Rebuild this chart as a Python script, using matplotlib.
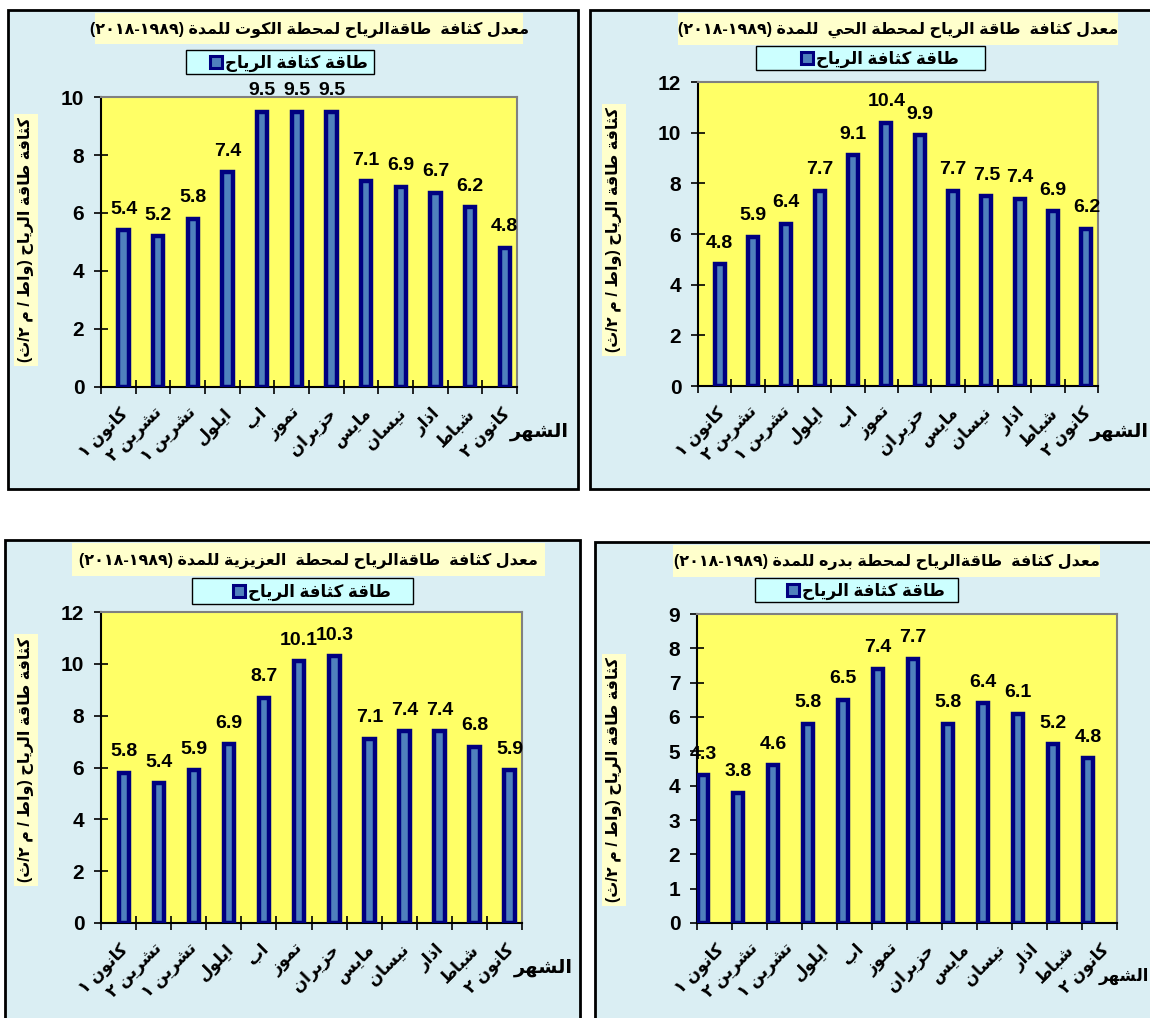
import matplotlib
matplotlib.use('Agg')
import matplotlib.pyplot as plt
from matplotlib.patches import Rectangle
import numpy as np

# ---------------- data ----------------
months = ['كانون ١', 'تشرين ٢', 'تشرين ١', 'ايلول', 'اب', 'تموز', 'حزيران',
          'مايس', 'نيسان', 'اذار', 'شباط', 'كانون ٢']
kut = [5.4, 5.2, 5.8, 7.4, 9.5, 9.5, 9.5, 7.1, 6.9, 6.7, 6.2, 4.8]
hay = [4.8, 5.9, 6.4, 7.7, 9.1, 10.4, 9.9, 7.7, 7.5, 7.4, 6.9, 6.2]
aziziyah = [5.8, 5.4, 5.9, 6.9, 8.7, 10.1, 10.3, 7.1, 7.4, 7.4, 6.8, 5.9]
badra = [4.3, 3.8, 4.6, 5.8, 6.5, 7.4, 7.7, 5.8, 6.4, 6.1, 5.2, 4.8]
titles = ['معدل كثافة  طاقةالرياح لمحطة الكوت للمدة (١٩٨٩-٢٠١٨)',
          'معدل كثافة  طاقة الرياح لمحطة الحي  للمدة (١٩٨٩-٢٠١٨)',
          'معدل كثافة  طاقةالرياح لمحطة  العزيزية للمدة (١٩٨٩-٢٠١٨)',
          'معدل كثافة  طاقةالرياح لمحطة بدره للمدة (١٩٨٩-٢٠١٨)']
legend_label = 'طاقة كثافة الرياح'
y_label = 'كثافة طاقة الرياح (واط / م ٢/ث)'
x_label = 'الشهر'

# ---------------- minimal Arabic shaping + visual ordering ----------------
DUAL = {'ب': 0xFE8F, 'ت': 0xFE95, 'ث': 0xFE99, 'ج': 0xFE9D, 'ح': 0xFEA1, 'خ': 0xFEA5,
        'س': 0xFEB1, 'ش': 0xFEB5, 'ص': 0xFEB9, 'ض': 0xFEBD, 'ط': 0xFEC1, 'ظ': 0xFEC5,
        'ع': 0xFEC9, 'غ': 0xFECD, 'ف': 0xFED1, 'ق': 0xFED5, 'ك': 0xFED9, 'ل': 0xFEDD,
        'م': 0xFEE1, 'ن': 0xFEE5, 'ه': 0xFEE9, 'ي': 0xFEF1, 'ئ': 0xFE89}
RIGHT = {'ا': 0xFE8D, 'أ': 0xFE83, 'إ': 0xFE87, 'آ': 0xFE81, 'د': 0xFEA9, 'ذ': 0xFEAB,
         'ر': 0xFEAD, 'ز': 0xFEAF, 'و': 0xFEED, 'ة': 0xFE93, 'ى': 0xFEEF, 'ؤ': 0xFE85}
DIG = set('0123456789٠١٢٣٤٥٦٧٨٩')
MIRROR = {'(': ')', ')': '(', '[': ']', ']': '['}


def _forms(word):
    out = []
    n = len(word)
    for i, c in enumerate(word):
        base = DUAL.get(c, RIGHT.get(c))
        if base is None:
            out.append(c)
            continue
        prev = word[i - 1] if i > 0 else ''
        nxt = word[i + 1] if i < n - 1 else ''
        jp = prev in DUAL
        jn = c in DUAL and (nxt in DUAL or nxt in RIGHT)
        if jp and jn:
            cp = base + 3
        elif jp:
            cp = base + 1
        elif jn:
            cp = base + 2
        else:
            cp = base
        out.append(chr(cp))
    return ''.join(out)


def ar(text):
    res = []
    for line in text.split('\n'):
        s = _forms(line)
        runs = []
        for ch in s:
            d = ch in DIG
            if runs and runs[-1][0] == d:
                runs[-1][1].append(ch)
            else:
                runs.append([d, [ch]])
        vis = ''
        for d, chars in reversed(runs):
            if d:
                vis += ''.join(chars)
            else:
                vis += ''.join(MIRROR.get(c, c) for c in reversed(chars))
        res.append(vis)
    return '\n'.join(res)


# ---------------- layout ----------------
W, H = 1150, 1018
FAM = ['Liberation Sans', 'DejaVu Sans']
plt.rcParams['font.family'] = FAM
fig = plt.figure(figsize=(W / 100, H / 100), dpi=100)
fig.patch.set_facecolor('white')


def fx(x):
    return x / W


def fy(y):
    return 1 - y / H


def frect(x0, y0, x1, y1, fc, ec, lw, z=0):
    fig.patches.append(Rectangle((fx(x0), fy(y1)), (x1 - x0) / W, (y1 - y0) / H,
                                 transform=fig.transFigure, facecolor=fc,
                                 edgecolor=ec, linewidth=lw, zorder=z))


BG = '#DAEEF3'
PLOT_BG = '#FFFF66'
BAR_FC = '#4F81BD'
BAR_EC = '#000080'

panels = [
    dict(vals=kut, ymax=10, ystep=2, title=titles[0], off=0.15,
         panel=(8, 10, 578, 489), plot=(101, 97, 517, 387),
         tbox=(95, 13, 523, 44), lbox=(186, 50, 374, 74),
         ylab=(26, 240), xlab=(569, 432), xls=14),
    dict(vals=hay, ymax=12, ystep=2, title=titles[1], off=0.15,
         panel=(590, 10, 1160, 489), plot=(698, 82, 1098, 386),
         tbox=(678, 13, 1118, 45), lbox=(756, 46, 985, 70),
         ylab=(614, 230), xlab=(1149, 432), xls=14),
    dict(vals=aziziyah, ymax=12, ystep=2, title=titles[2], off=0.15,
         panel=(5, 540, 580, 1025), plot=(101, 612, 522, 923),
         tbox=(72, 543, 545, 576), lbox=(192, 578, 413, 604),
         ylab=(26, 760), xlab=(573, 968), xls=14),
    dict(vals=badra, ymax=9, ystep=1, title=titles[3], off=-0.33,
         panel=(595, 542, 1160, 1025), plot=(697, 614, 1117, 923),
         tbox=(673, 545, 1100, 577), lbox=(755, 578, 958, 602),
         ylab=(614, 780), xlab=(1149, 976), xls=12),
]

x = np.arange(len(months))
for p in panels:
    # panel background
    frect(*p['panel'], BG, 'black', 2.0, z=0)
    # title box + text
    tb = p['tbox']
    frect(*tb, '#FFFFCC', 'none', 0, z=1)
    fig.text(fx((tb[0] + tb[2]) / 2), fy((tb[1] + tb[3]) / 2 + 1), ar(p['title']),
             ha='center', va='center', fontsize=11.5, fontweight='bold', zorder=2)
    # legend box: marker on the left of the label, group centred
    lb = p['lbox']
    frect(*lb, '#CCFFFF', 'black', 1.0, z=1)
    cx = (lb[0] + lb[2]) / 2
    cy = (lb[1] + lb[3]) / 2
    frect(cx - 70, cy - 6, cx - 58, cy + 6, BAR_FC, BAR_EC, 2.2, z=2)
    fig.text(fx(cx - 55), fy(cy + 1), ar(legend_label), ha='left', va='center',
             fontsize=12, fontweight='bold', zorder=2)

    # axes
    pl = p['plot']
    ax = fig.add_axes([fx(pl[0]), fy(pl[3]), (pl[2] - pl[0]) / W, (pl[3] - pl[1]) / H])
    ax.set_facecolor(PLOT_BG)
    ax.set_zorder(3)
    off = p['off']
    ax.bar(x + off, p['vals'], width=0.3, color=BAR_FC, edgecolor=BAR_EC,
           linewidth=3.2, zorder=3)
    for xi, v in zip(x, p['vals']):
        ax.annotate(f'{v:.1f}', (xi + off, v),
                    xytext=(0, 9), textcoords='offset points', ha='center',
                    va='bottom', fontsize=14, fontweight='bold',
                    annotation_clip=False, zorder=4)
    ax.set_xlim(-0.5, len(months) - 0.5)
    ax.set_ylim(0, p['ymax'])
    yt = np.arange(0, p['ymax'] + 0.01, p['ystep'])
    ax.set_yticks(yt)
    ax.set_yticklabels([f'{int(t)}' for t in yt], fontsize=15, fontweight='bold')
    ax.set_xticks(np.arange(-0.5, len(months) + 0.0, 1.0))
    ax.set_xticklabels([])
    ax.tick_params(axis='both', direction='inout', length=10, width=1.2, color='black')
    ax.tick_params(axis='y', pad=7)
    for s in ['left', 'bottom']:
        ax.spines[s].set_color('black')
        ax.spines[s].set_linewidth(1.5)
    for s in ['top', 'right']:
        ax.spines[s].set_color('#808080')
        ax.spines[s].set_linewidth(1.5)
    # month labels, rotated 45
    for xi, m in zip(x, months):
        ax.annotate(ar(m), (xi, 0), xycoords=('data', 'axes fraction'),
                    xytext=(1, -13), textcoords='offset points',
                    rotation=45, rotation_mode='anchor', ha='right', va='top',
                    fontsize=12, fontweight='bold', annotation_clip=False)
    # y label
    yx, yy = p['ylab']
    fig.text(fx(yx), fy(yy), ar(y_label), rotation=90, ha='center', va='center',
             fontsize=11.5, fontweight='bold', zorder=5,
             bbox=dict(boxstyle='square,pad=0.25', facecolor='#FFFFCC', edgecolor='none'))
    # x label
    xx, xy = p['xlab']
    fig.text(fx(xx), fy(xy), ar(x_label), ha='right', va='center',
             fontsize=p['xls'], fontweight='bold', zorder=5)

fig.savefig('out.png', dpi=100)
